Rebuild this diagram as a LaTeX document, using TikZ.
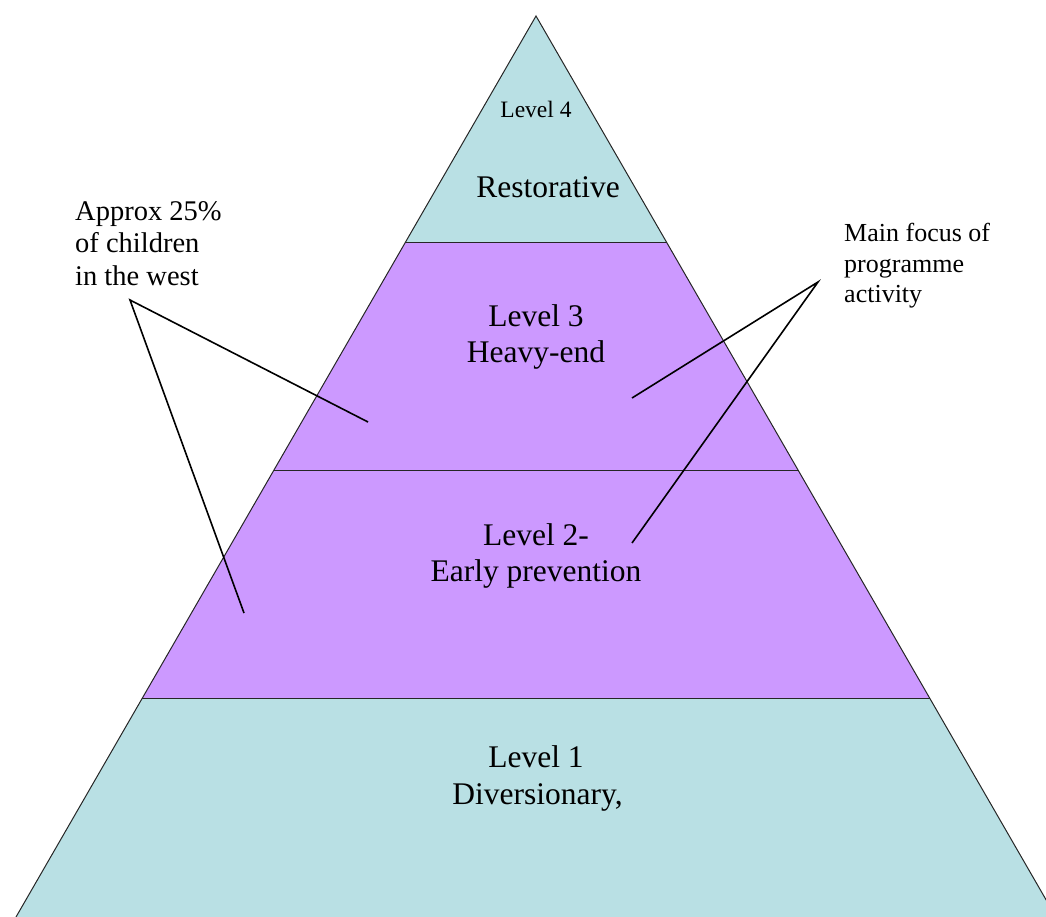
\documentclass[tikz,border=0pt]{standalone}
\usepackage{fontspec}
\setmainfont{Liberation Serif}
\definecolor{teal}{HTML}{B9E0E4}
\definecolor{lilac}{HTML}{CC99FF}
\begin{document}
\begin{tikzpicture}[x=1pt,y=-1pt,
  band/.style={draw=black!85,line width=1pt},
  big/.style={anchor=base,inner sep=0pt,font=\fontsize{31.5}{36}\selectfont},
  small/.style={anchor=base,inner sep=0pt,font=\fontsize{23.5}{28}\selectfont},
  lefttxt/.style={anchor=base west,inner sep=0pt,font=\fontsize{28.5}{32}\selectfont},
  righttxt/.style={anchor=base west,inner sep=0pt,font=\fontsize{26}{30}\selectfont},
  pointer/.style={draw=black,line width=1.6pt}]
\useasboundingbox (0,0) rectangle (1046,917);
\clip (0,0) rectangle (1046,917);
% bands
\fill[teal] (536,16) -- (667,243) -- (405,243) -- cycle;
\fill[lilac] (405,243) -- (667,243) -- (798,470) -- (274,470) -- cycle;
\fill[lilac] (274,470) -- (798,470) -- (929.6,698) -- (142.4,698) -- cycle;
\fill[teal] (142.4,698) -- (929.6,698) -- (1056,917) -- (16,917) -- cycle;
\draw[band] (16,917) -- (536,16) -- (1056,917);
\draw[band] (405,243) -- (667,243);
\draw[band] (274,470) -- (798,470);
\draw[band] (142.4,698) -- (929.6,698);
% texts
\node[small] (l4) at (536,117.3) {Level 4};
\node[big] (rest) at (548,197.3) {Restorative};
\node[big] (l3a) at (536,326.7) {Level 3};
\node[big] (l3b) at (536,362.7) {Heavy-end};
\node[big] (l2a) at (536,545) {Level 2-};
\node[big] (l2b) at (536,581.5) {Early prevention};
\node[big] (l1a) at (536,767.3) {Level 1};
\node[big] (l1b) at (537.5,804) {Diversionary,};
\node[lefttxt] (la) at (75,220.7) {Approx 25\%};
\node[lefttxt] (lb) at (75,253) {of children};
\node[lefttxt] (lc) at (75,285) {in the west};
\node[righttxt] (ra) at (844,241.7) {Main focus of};
\node[righttxt] (rb) at (844,272.2) {programme};
\node[righttxt] (rc) at (844,302.7) {activity};
% pointers
\coordinate (lp) at (130,300);
\coordinate (lp3) at (368,422);
\coordinate (lp2) at (244,613);
\coordinate (rp) at (818,282);
\coordinate (rp3) at (632,398);
\coordinate (rp2) at (632,543);
\draw[pointer] (lp3) -- (lp) -- (lp2);
\draw[pointer] (rp3) -- (rp) -- (rp2);
\end{tikzpicture}
\end{document}
